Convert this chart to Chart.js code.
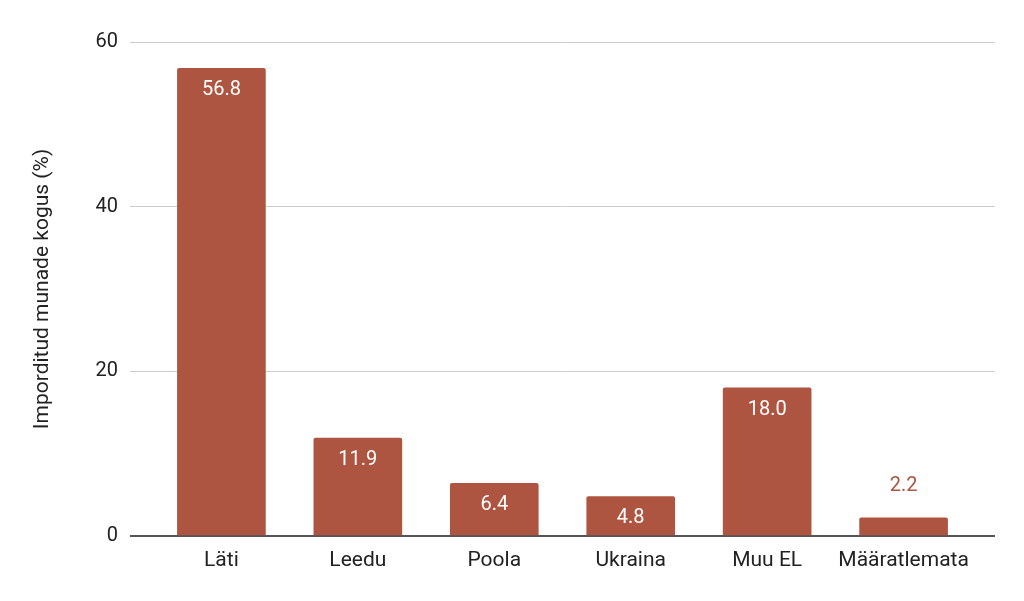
<!DOCTYPE html>
<html>
<head>
<meta charset="utf-8">
<script src="https://cdn.jsdelivr.net/npm/chart.js@4"></script>
<style>
  html, body { margin: 0; padding: 0; background: #fff; }
  #wrap { width: 1024px; height: 601px; }
</style>
</head>
<body>
<div id="wrap"><canvas id="myChart" width="1024" height="601"></canvas></div>
<script>
var categories = ['Läti', 'Leedu', 'Poola', 'Ukraina', 'Muu EL', 'Määratlemata'];
var shares = [56.8, 11.9, 6.4, 4.8, 18.0, 2.2];
var yTicks = [0, 20, 40, 60];
var yTitle = 'Imporditud munade kogus (%)';

var barColor = '#ae5541';

var points = [];
for (var i = 0; i < categories.length; i++) {
  points.push({ x: i, y: shares[i] });
}

// value labels: white inside the bar, or above it when the bar is short
var valueLabels = {
  id: 'valueLabels',
  afterDatasetsDraw: function (chart) {
    var ctx = chart.ctx;
    var meta = chart.getDatasetMeta(0);
    ctx.save();
    ctx.font = '20px Roboto';
    ctx.textAlign = 'center';
    ctx.textBaseline = 'middle';
    meta.data.forEach(function (bar, i) {
      var txt = shares[i].toFixed(1);
      var h = bar.base - bar.y;
      if (h > 30) {
        ctx.fillStyle = '#ffffff';
        ctx.fillText(txt, bar.x, bar.y + 22);
      } else {
        ctx.fillStyle = barColor;
        ctx.fillText(txt, bar.x, bar.y - 32);
      }
    });
    ctx.restore();
  }
};

Chart.defaults.font.family = 'Roboto';

var myChart = new Chart(document.getElementById('myChart').getContext('2d'), {
  type: 'bar',
  data: {
    datasets: [{
      data: points,
      backgroundColor: barColor,
      barThickness: 88,
      borderRadius: { topLeft: 2, topRight: 2 },
      borderSkipped: 'start'
    }]
  },
  options: {
    responsive: false,
    animation: false,
    layout: { padding: { top: 42, right: 29, left: 0, bottom: 0 } },
    plugins: { legend: { display: false }, tooltip: { enabled: false } },
    scales: {
      x: {
        type: 'linear',
        offset: false,
        min: -0.67,
        max: 5.67,
        afterBuildTicks: function (s) {
          s.ticks = categories.map(function (c, i) { return { value: i }; });
        },
        afterFit: function (s) { s.height = 65; },
        grid: { display: false },
        border: { display: false },
        ticks: {
          autoSkip: false,
          maxRotation: 0,
          padding: 4,
          color: '#222',
          font: { size: 21 },
          callback: function (v) { return categories[v]; }
        }
      },
      y: {
        min: 0,
        max: 60,
        afterBuildTicks: function (s) {
          s.ticks = yTicks.map(function (v) { return { value: v }; });
        },
        afterFit: function (s) { s.width = 130; },
        border: { display: false },
        grid: {
          drawTicks: false,
          color: function (c) { return c.tick && c.tick.value === 0 ? '#555555' : '#cccccc'; },
          lineWidth: function (c) { return c.tick && c.tick.value === 0 ? 2 : 1; }
        },
        ticks: { padding: 12, color: '#222', font: { size: 20 } },
        title: {
          display: true,
          text: yTitle,
          color: '#222',
          font: { size: 21 },
          padding: { top: 30, bottom: 0 }
        }
      }
    }
  },
  plugins: [valueLabels]
});
</script>
</body>
</html>
